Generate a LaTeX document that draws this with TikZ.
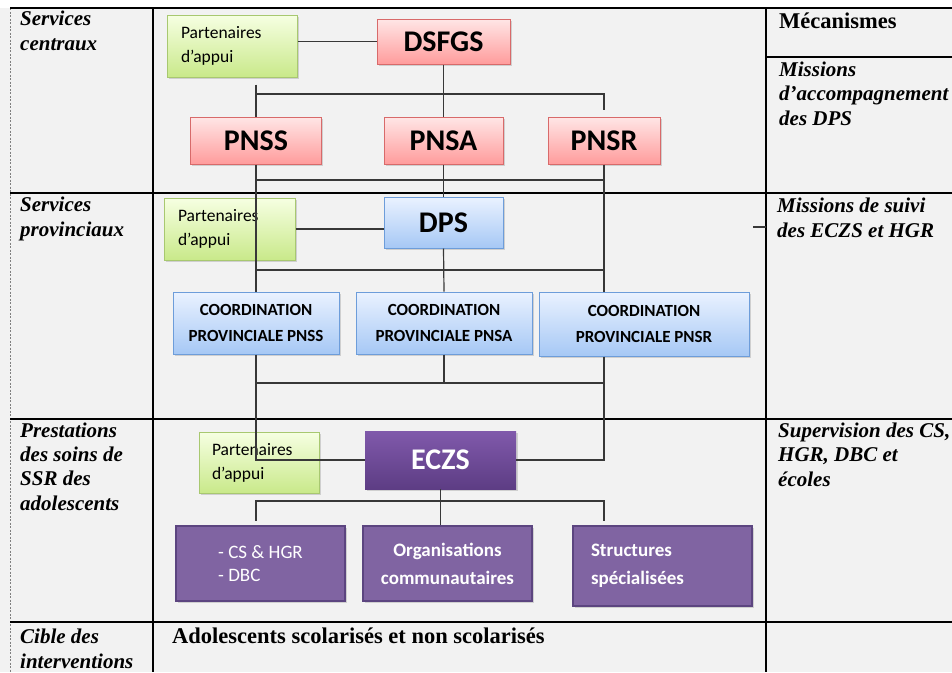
\documentclass[tikz,border=0pt]{standalone}
\usepackage{fontspec}
\setmainfont{Liberation Serif}
\newfontfamily\calibri{Carlito}
\usetikzlibrary{shadows}
\definecolor{bggray}{HTML}{F2F2F2}
\definecolor{wiregray}{HTML}{383838}
\definecolor{redtop}{HTML}{FFE6E6}
\definecolor{redbot}{HTML}{FF9C9C}
\definecolor{redline}{HTML}{D86A6A}
\definecolor{greentop}{HTML}{F6FFE2}
\definecolor{greenbot}{HTML}{C9E98A}
\definecolor{greenline}{HTML}{A8C870}
\definecolor{bluetop}{HTML}{EAF2FF}
\definecolor{bluebot}{HTML}{A6C8F5}
\definecolor{blueline}{HTML}{6D9DDA}
\definecolor{eczstop}{HTML}{8059AB}
\definecolor{eczsbot}{HTML}{5D3D84}
\definecolor{violet}{HTML}{8064A2}
\definecolor{violetline}{HTML}{5C4580}
\begin{document}
\begin{tikzpicture}[x=1pt,y=-1pt,
  shadowed/.style={drop shadow={shadow xshift=1.5pt,shadow yshift=-2pt,opacity=.3}},
  bigfont/.style={font=\calibri\bfseries\fontsize{30}{32}\selectfont},
  redbox/.style={shadowed,bigfont,draw=redline,line width=1pt,top color=redtop,bottom color=redbot,minimum height=47pt},
  bluebox/.style={shadowed,draw=blueline,line width=1pt,top color=bluetop,bottom color=bluebot},
  coordbox/.style={bluebox,font=\calibri\bfseries\fontsize{17}{26}\selectfont,align=center,minimum height=62pt},
  partbox/.style={shadowed,draw=greenline,line width=1pt,top color=greentop,bottom color=greenbot,
    font=\calibri\fontsize{17.5}{24}\selectfont,align=left,inner xsep=14pt,minimum height=62pt},
  lowbox/.style={shadowed,fill=violet,draw=violetline,line width=2.2pt,text=white,minimum height=75pt},
  link/.style={draw=wiregray,line width=1.2pt},
  rowtext/.style={anchor=base west,inner sep=0pt,align=left,font=\bfseries\itshape\fontsize{21}{24.3}\selectfont},
  headtext/.style={anchor=base west,inner sep=0pt,font=\bfseries\fontsize{22.5}{24}\selectfont}]
  \useasboundingbox (0,0) rectangle (952,672);
  % table
  \fill[bggray] (0,8) rectangle (952,672);
  \draw[gray,dash pattern=on 2pt off 1.5pt,line width=.6pt] (10,8) -- (10,672);
  \draw[line width=1.3pt] (10,8) -- (952,8) (153,8) -- (153,672) (766,8) -- (766,672) (766,57) -- (952,57);
  \foreach \y in {193,419,622} \draw[line width=1.3pt] (10,\y) -- (952,\y);
  \node[rowtext] (central) at (20,50) {Services\\centraux};
  \node[rowtext] (provincial) at (20,236) {Services\\provinciaux};
  \node[rowtext] (prestations) at (20,510) {Prestations\\des soins de\\SSR des\\adolescents};
  \node[rowtext] (cible) at (20,668) {Cible des\\interventions};
  \node[headtext] (mecanismes) at (779,28) {Mécanismes};
  \node[rowtext] (accomp) at (779,125) {Missions\\d’accompagnement\\des DPS};
  \node[rowtext] (suivi) at (777,237) {Missions de suivi\\des ECZS et HGR};
  \node[rowtext] (supervision) at (778,486) {Supervision des CS,\\HGR, DBC et\\écoles};
  \node[headtext] (adolescents) at (172,643) {Adolescents scolarisés et non scolarisés};
  \draw[link] (753,227) -- (766,227);
  % services centraux
  \node[partbox,text width=102pt] (pa1) at (232,46) {Partenaires\\d’appui};
  \node[redbox,minimum width=133pt,minimum height=45pt] (dsfgs) at (443.5,41.5) {DSFGS};
  \node[redbox,minimum width=131pt] (pnss) at (256,140.5) {PNSS};
  \node[redbox,minimum width=119pt] (pnsa) at (443.5,140.5) {PNSA};
  \node[redbox,minimum width=112pt] (pnsr) at (604,140.5) {PNSR};
  % services provinciaux
  \node[partbox,text width=103pt] (pa2) at (229.5,229) {Partenaires\\d’appui};
  \node[bluebox,bigfont,minimum width=119pt,minimum height=51pt] (dps) at (443.5,222.5) {DPS};
  \node[coordbox,minimum width=166pt] (cpnss) at (256,323) {COORDINATION\\PROVINCIALE PNSS};
  \node[coordbox,minimum width=176pt] (cpnsa) at (444,323) {COORDINATION\\PROVINCIALE PNSA};
  \node[coordbox,minimum width=210pt,minimum height=64pt] (cpnsr) at (644,324) {COORDINATION\\PROVINCIALE PNSR};
  % prestations
  \node[partbox,text width=94pt,inner xsep=13pt,minimum height=61pt] (pa3) at (259,462.5) {Partenaires\\d’appui};
  \node[shadowed,bigfont,top color=eczstop,bottom color=eczsbot,text=white,minimum width=151pt,minimum height=58pt] (eczs) at (440.5,460) {ECZS};
  \node[lowbox,font=\calibri\fontsize{19}{23}\selectfont,align=left,minimum width=169pt] (cs) at (260.5,563.5) {- CS \& HGR\\- DBC};
  \node[lowbox,font=\calibri\bfseries\fontsize{19}{28}\selectfont,align=center,minimum width=169pt] (orgs) at (447.5,563.5) {Organisations\\communautaires};
  \node[lowbox,font=\calibri\bfseries\fontsize{19}{28}\selectfont,align=left,text width=143pt,inner xsep=18pt,minimum height=80pt] (structs) at (662.5,566) {Structures\\spécialisées};
  % liaisons
  \coordinate (bus1) at (0,94);
  \coordinate (bus2) at (0,180);
  \coordinate (bus3) at (0,270);
  \coordinate (bus4) at (0,383);
  \coordinate (bus5) at (0,501);
  \draw[link] (pa1.east |- dsfgs.west) -- (dsfgs.west);
  \draw[link] (dsfgs.south) -- (pnsa.north);
  \draw[link] ([yshift=32pt]pnss.north) -- (pnss.north);
  \draw[link] (pnss.north |- bus1) -| ([yshift=7pt]pnsr.north);
  \draw[link] (pnss.south) -- (cpnss.north);
  \draw[link] (pnsa.south) -- (dps.north);
  \draw[link] (pnsr.south) -- (pnsr.south |- cpnsr.north);
  \draw[link] (pnss.south |- bus2) -- (pnsr.south |- bus2);
  \draw[link] (pa2.east) -- (pa2.east -| dps.west);
  \draw[link] (dps.south) -- (cpnsa.north);
  \draw[link] (cpnss.north |- bus3) -- (pnsr.south |- bus3);
  \draw[link] (cpnss.south) |- (eczs.west);
  \draw[link] (cpnsa.south) -- (cpnsa.south |- bus4);
  \draw[link] (cpnss.south |- bus4) -- (pnsr.south |- bus4);
  \draw[link] (pnsr.south |- cpnsr.south) |- (eczs.east);
  \draw[link] (eczs.south) -- (eczs.south |- orgs.north);
  \draw[link] ([yshift=4pt]cpnss.south |- cs.north) -- (cpnss.south |- bus5) -- (pnsr.south |- bus5) -- ([yshift=4pt]pnsr.south |- structs.north);
\end{tikzpicture}
\end{document}
